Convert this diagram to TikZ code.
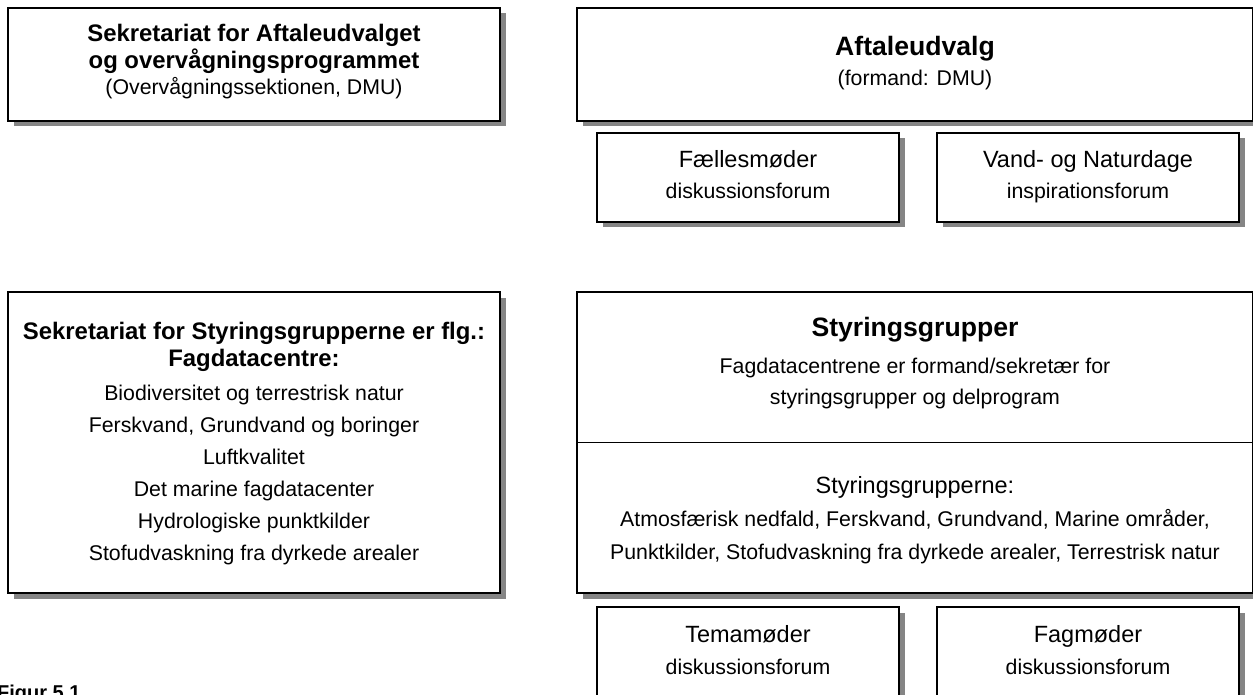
\documentclass[tikz,border=0pt]{standalone}
\usepackage{fontspec}
\setmainfont{Liberation Sans}
\usetikzlibrary{shadows}
\tikzset{
 box/.style={draw=black, line width=1.4pt, fill=white, rectangle, inner sep=0pt,
   drop shadow={shadow xshift=5.5pt, shadow yshift=-5.5pt, fill=black!48, opacity=1}},
 lb/.style={anchor=base, inner sep=0pt, font=\fontsize{23.9}{28}\selectfont\bfseries},
 lr/.style={anchor=base, inner sep=0pt, font=\fontsize{21.3}{25}\selectfont},
 rt/.style={anchor=base, inner sep=0pt, font=\fontsize{26.6}{31}\selectfont\bfseries},
 rm/.style={anchor=base, inner sep=0pt, font=\fontsize{23.5}{28}\selectfont},
 rs/.style={anchor=base, inner sep=0pt, font=\fontsize{21.3}{25}\selectfont},
}
\begin{document}
\begin{tikzpicture}[x=1pt,y=-1pt]
\useasboundingbox (0,0) rectangle (1253,695);
\clip (0,0) rectangle (1253,695);
% boxes
\node[box, minimum width=492pt, minimum height=113pt] (sekA) at (254,64.5) {};
\node[box, minimum width=676pt, minimum height=113pt] (aft) at (915,64.5) {};
\node[box, minimum width=302pt, minimum height=89pt] (fael) at (748,177.5) {};
\node[box, minimum width=302pt, minimum height=89pt] (vand) at (1088,177.5) {};
\node[box, minimum width=492pt, minimum height=301pt] (sekS) at (254,442.5) {};
\node[box, minimum width=676pt, minimum height=301pt] (styr) at (915,442.5) {};
\node[box, minimum width=302pt, minimum height=89pt] (tema) at (748,651.5) {};
\node[box, minimum width=302pt, minimum height=89pt] (fag) at (1088,651.5) {};
\draw[line width=1.4pt] (styr.west) -- (styr.east);
% top-left text
\node[lb] (a1) at (254,41.5) {Sekretariat for Aftaleudvalget};
\node[lb] (a2) at (254,68.5) {og overvågningsprogrammet};
\node[lr] (a3) at (254,95) {(Overvågningssektionen, DMU)};
% Aftaleudvalg
\node[rt] (b1) at (915,56) {Aftaleudvalg};
\node[rs] (b2) at (915,86) {(formand: DMU)};
\node[rm] (c1) at (748,168) {Fællesmøder};
\node[rs] (c2) at (748,199) {diskussionsforum};
\node[rm] (d1) at (1088,168) {Vand- og Naturdage};
\node[rs] (d2) at (1088,199) {inspirationsforum};
% left middle
\node[lb] (e1) at (254,339) {Sekretariat for Styringsgrupperne er flg.:};
\node[lb] (e2) at (254,366) {Fagdatacentre:};
\node[lr] (e3) at (254,400.5) {Biodiversitet og terrestrisk natur};
\node[lr] (e4) at (254,432.5) {Ferskvand, Grundvand og boringer};
\node[lr] (e5) at (254,464.5) {Luftkvalitet};
\node[lr] (e6) at (254,496.5) {Det marine fagdatacenter};
\node[lr] (e7) at (254,528.5) {Hydrologiske punktkilder};
\node[lr] (e8) at (254,560.5) {Stofudvaskning fra dyrkede arealer};
% Styringsgrupper
\node[rt] (f1) at (915,336) {Styringsgrupper};
\node[rs] (f2) at (915,373) {Fagdatacentrene er formand/sekretær for};
\node[rs] (f3) at (915,404) {styringsgrupper og delprogram};
\node[rm] (g1) at (915,493) {Styringsgrupperne:};
\node[rs] (g2) at (915,526) {Atmosfærisk nedfald, Ferskvand, Grundvand, Marine områder,};
\node[rs] (g3) at (915,559) {Punktkilder, Stofudvaskning fra dyrkede arealer, Terrestrisk natur};
% bottom
\node[rm] (h1) at (748,642) {Temamøder};
\node[rs] (h2) at (748,674) {diskussionsforum};
\node[rm] (i1) at (1088,642) {Fagmøder};
\node[rs] (i2) at (1088,674) {diskussionsforum};
\node[anchor=base west, inner sep=0pt, font=\fontsize{20}{24}\selectfont\bfseries] (fig) at (-3,699.5) {Figur 5.1};
\end{tikzpicture}
\end{document}
